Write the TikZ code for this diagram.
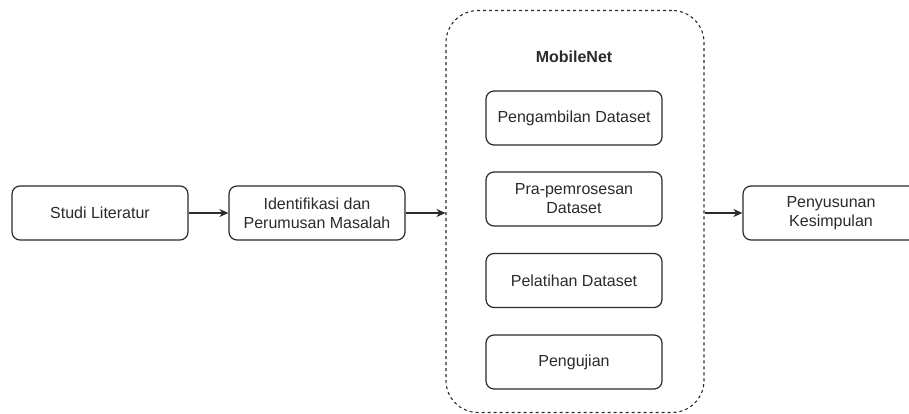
\documentclass[tikz,border=0pt]{standalone}
\usepackage{fontspec}
\setmainfont{Liberation Sans}
\usetikzlibrary{arrows.meta}
\definecolor{ink}{HTML}{2B2B2B}
\tikzset{
  stepbox/.style={draw=ink, line width=1.2pt, rounded corners=8pt, minimum width=176pt, minimum height=54pt, align=center, font=\fontsize{16}{19}\selectfont, text=ink, inner sep=0pt},
  groupbox/.style={draw=ink, line width=1.1pt, dash pattern=on 3pt off 3pt, rounded corners=32pt, minimum width=258pt, minimum height=402pt, inner sep=0pt},
  flow/.style={draw=ink, line width=1.2pt, -{Stealth[length=9pt,width=8pt]}},
}
\begin{document}
\begin{tikzpicture}[x=1pt,y=1pt]
\useasboundingbox (0,0) rectangle (909,414);
\clip (0,0) rectangle (909,414);
\fill[white] (0,0) rectangle (909,414);
\node[groupbox] (grp) at (575,202.5) {};
\node[text=ink, font=\bfseries\fontsize{16}{19}\selectfont] (title) at (574,357) {MobileNet};
\node[stepbox] (studi) at (100,201) {Studi Literatur};
\node[stepbox] (ident) at (317,201) {Identifikasi dan\\Perumusan Masalah};
\node[stepbox] (ambil) at (574,296) {Pengambilan Dataset};
\node[stepbox] (pra) at (574,215) {Pra-pemrosesan\\Dataset};
\node[stepbox] (latih) at (574,133.5) {Pelatihan Dataset};
\node[stepbox] (uji) at (574,52) {Pengujian};
\node[stepbox] (simpul) at (831,201) {Penyusunan\\Kesimpulan};
\draw[flow] (studi) -- (ident);
\draw[flow] (ident) -- (ident -| grp.west);
\draw[flow] (simpul -| grp.east) -- (simpul);
\end{tikzpicture}
\end{document}
